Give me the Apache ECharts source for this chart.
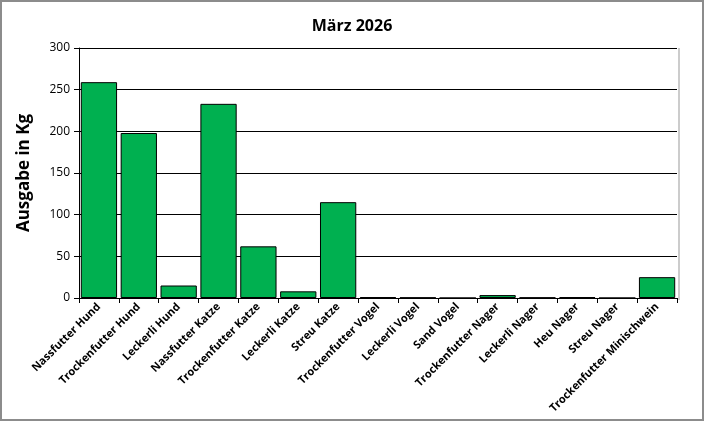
<!DOCTYPE html>
<html><head><meta charset="utf-8">
<script src="https://cdn.jsdelivr.net/npm/echarts@6/dist/echarts.min.js"></script>
<style>html,body{margin:0;padding:0;background:#fff}#c{width:704px;height:421px;box-sizing:border-box;border:2px solid #8c8c8c}</style>
</head><body><div id="c"></div>
<script>
var categories = ["Nassfutter Hund","Trockenfutter Hund","Leckerli Hund","Nassfutter Katze","Trockenfutter Katze","Leckerli Katze","Streu Katze","Trockenfutter Vogel","Leckerli Vogel","Sand Vogel","Trockenfutter Nager","Leckerli Nager","Heu Nager","Streu Nager","Trockenfutter Minischwein"];
var values = [259, 198, 15, 233, 62, 8, 115, 1, 0.5, 0, 3.5, 0.5, 1, 0, 25];
var yTicks = [0, 50, 100, 150, 200, 250, 300];
var chart = echarts.init(document.getElementById('c'));
chart.setOption({
  animation: false,
  title: {text: 'März 2026', left: 'center', top: 11, textStyle: {fontFamily: 'Open Sans', fontWeight: 'bold', fontSize: 16, color: '#000'}},
  grid: {left: 77, right: 25, top: 46, bottom: 121},
  xAxis: {
    type: 'category', data: categories,
    axisLine: {lineStyle: {color: '#000'}},
    axisTick: {show: true, length: 5, lineStyle: {color: '#000'}},
    axisLabel: {rotate: 45, interval: 0, margin: 7, fontFamily: 'Open Sans', fontWeight: 'bold', fontSize: 11, color: '#000'}
  },
  yAxis: {
    type: 'value', min: yTicks[0], max: yTicks[yTicks.length-1], interval: 50,
    name: 'Ausgabe in Kg', nameLocation: 'middle', nameGap: 46, nameRotate: 90,
    nameTextStyle: {fontFamily: 'Open Sans', fontWeight: 'bold', fontSize: 17, color: '#000'},
    axisLine: {show: true, lineStyle: {color: '#000'}},
    axisTick: {show: true, length: 5, lineStyle: {color: '#000'}},
    axisLabel: {fontFamily: 'Open Sans', fontSize: 12, color: '#000', margin: 9},
    splitLine: {lineStyle: {color: '#000', width: 1}}
  },
  series: [{
    type: 'bar', data: values, barCategoryGap: '9%',
    itemStyle: {color: '#00b050', borderColor: '#000', borderWidth: 1}
  }],
  graphic: [{type: 'line', shape: {x1: 677, y1: 46, x2: 677, y2: 298}, style: {stroke: '#999', lineWidth: 1}}]
});
</script></body></html>
